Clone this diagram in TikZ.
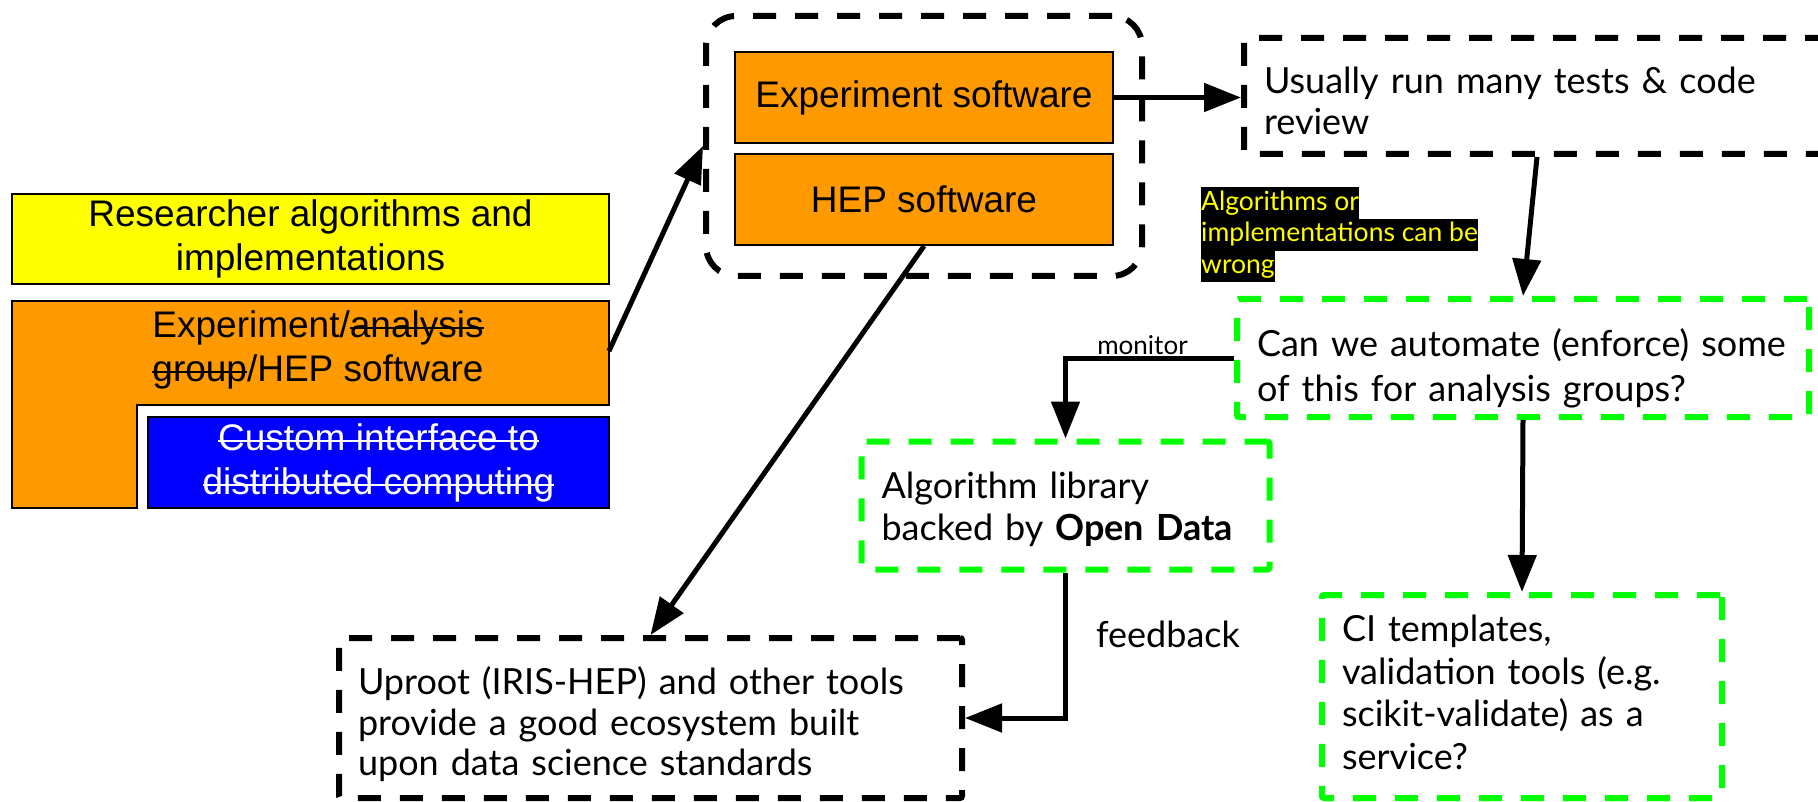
\documentclass[tikz,border=0pt]{standalone}
\usepackage{fontspec}
\setmainfont{Lato}
\newfontfamily\arialfont{Liberation Sans}
\usetikzlibrary{arrows.meta}

% struck-through text: a rule drawn across the word at mid x-height
\newcommand{\strk}[1]{\leavevmode\setbox0\hbox{#1}%
  \rlap{\rule[0.22em]{\wd0}{2.4pt}}\box0}

\definecolor{boxorange}{HTML}{FF9900}
\definecolor{boxyellow}{HTML}{FFFF00}
\definecolor{boxblue}{HTML}{0000FF}
\definecolor{neongreen}{HTML}{00FF00}

\tikzset{
  solidbox/.style={draw=black, line width=2pt, inner sep=0pt, align=center,
    font=\arialfont\fontsize{37}{44}\selectfont},
  dashbox/.style={draw=black, line width=6pt, dash pattern=on 23pt off 19pt,
    rounded corners=2pt, inner sep=0pt},
  greenbox/.style={dashbox, draw=neongreen},
  boxtext/.style={inner sep=0pt, align=left, anchor=center},
  conn/.style={line width=5pt, -{Triangle[length=37pt,width=28pt]}},
  hl/.style={fill=black, text=boxyellow, inner xsep=0pt, inner ysep=0pt,
    anchor=north west, minimum height=31.7pt, text height=20pt, text depth=6pt,
    font=\fontsize{26.5}{30}\selectfont},
  smalllabel/.style={inner sep=0pt, anchor=base}
}

\begin{document}
\begin{tikzpicture}[x=1pt,y=-1pt]
\useasboundingbox (0,0) rectangle (1818,802);

% left stack of layers
\node[solidbox, fill=boxyellow, minimum width=597pt, minimum height=90pt]
  (research) at (310.5,239) {Researcher algorithms and\\implementations};
\draw[fill=boxorange, line width=2pt]
  (12,301) -- (609,301) -- (609,405) -- (137,405) -- (137,508) -- (12,508) -- cycle;
\coordinate (lport) at (609,351);
\node[align=center, inner sep=0pt, font=\arialfont\fontsize{37}{44}\selectfont]
  (exptext) at (318,350) {Experiment/\strk{analysis}\\\strk{group}/HEP software};
\node[solidbox, fill=boxblue, text=white, minimum width=461pt, minimum height=91pt]
  (custom) at (378.5,462.5) {\strk{Custom interface to}\\\strk{distributed computing}};

% software group
\node[draw=black, line width=6pt, dash pattern=on 23pt off 19pt, rounded corners=30pt,
  minimum width=436pt, minimum height=260pt] (group) at (924,146) {};
\node[solidbox, fill=boxorange, minimum width=378pt, minimum height=91pt]
  (exp) at (924,97.5) {Experiment software};
\node[solidbox, fill=boxorange, minimum width=378pt, minimum height=91pt]
  (hep) at (924,199.5) {HEP software};

% outlined boxes
\node[dashbox, minimum width=586pt, minimum height=116pt] (usually) at (1537,96) {};
\node[greenbox, minimum width=572pt, minimum height=118pt] (can) at (1523,358) {};
\node[greenbox, minimum width=408pt, minimum height=128pt] (algo) at (1065.5,505.5) {};
\node[greenbox, minimum width=400pt, minimum height=203pt] (ci) at (1522,696.5) {};
\node[dashbox, minimum width=623pt, minimum height=160pt] (uproot) at (650.5,718) {};

% their texts
\node[boxtext, text width=546pt, yshift=-5pt, font=\fontsize{36}{41}\selectfont]
  (usuallytext) at (usually.center) {Usually run many tests \& code\\review};
\node[boxtext, text width=532pt, yshift=-10pt, font=\fontsize{36}{45}\selectfont]
  (cantext) at (can.center) {Can we automate (enforce) some\\of this for analysis groups?};
\node[boxtext, text width=368pt, yshift=-3.5pt, font=\fontsize{36}{42}\selectfont]
  (algotext) at (algo.center) {Algorithm library\\backed by \textbf{Open Data}};
\node[boxtext, text width=360pt, yshift=4pt, font=\fontsize{36}{42.5}\selectfont]
  (citext) at (ci.center)
  {CI templates,\\validation tools (e.g.\\scikit-validate) as a\\service?};
\node[boxtext, text width=585pt, yshift=-6.5pt, font=\fontsize{36}{40.5}\selectfont]
  (uproottext) at (uproot.center)
  {Uproot (IRIS-HEP) and other tools\\provide a good ecosystem built\\upon data science standards};

% highlighted remark
\node[hl] (warn1) at (1201,187) {Algorithms or};
\node[hl] (warn2) at (1201,218.7) {implementations can be};
\node[hl] (warn3) at (1201,250.4) {wrong};

% connectors
\draw[conn] (lport) -- (group.west);
\draw[conn] (exp.east) -- (exp.east -| usually.west);
\draw[conn] (usually.south) -- (can.north);
\draw[conn] (can.south) -- (ci.north);
\draw[conn] (hep.south) -- (uproot.north);
\draw[conn] (can.west) -| (algo.north);
\draw[conn] (algo.south) |- (uproot.east);

\node[smalllabel, font=\fontsize{26}{30}\selectfont] (monitor) at (1142.5,355) {monitor};
\node[smalllabel, font=\fontsize{36}{40}\selectfont] (feedback) at (1168,647) {feedback};
\end{tikzpicture}
\end{document}
